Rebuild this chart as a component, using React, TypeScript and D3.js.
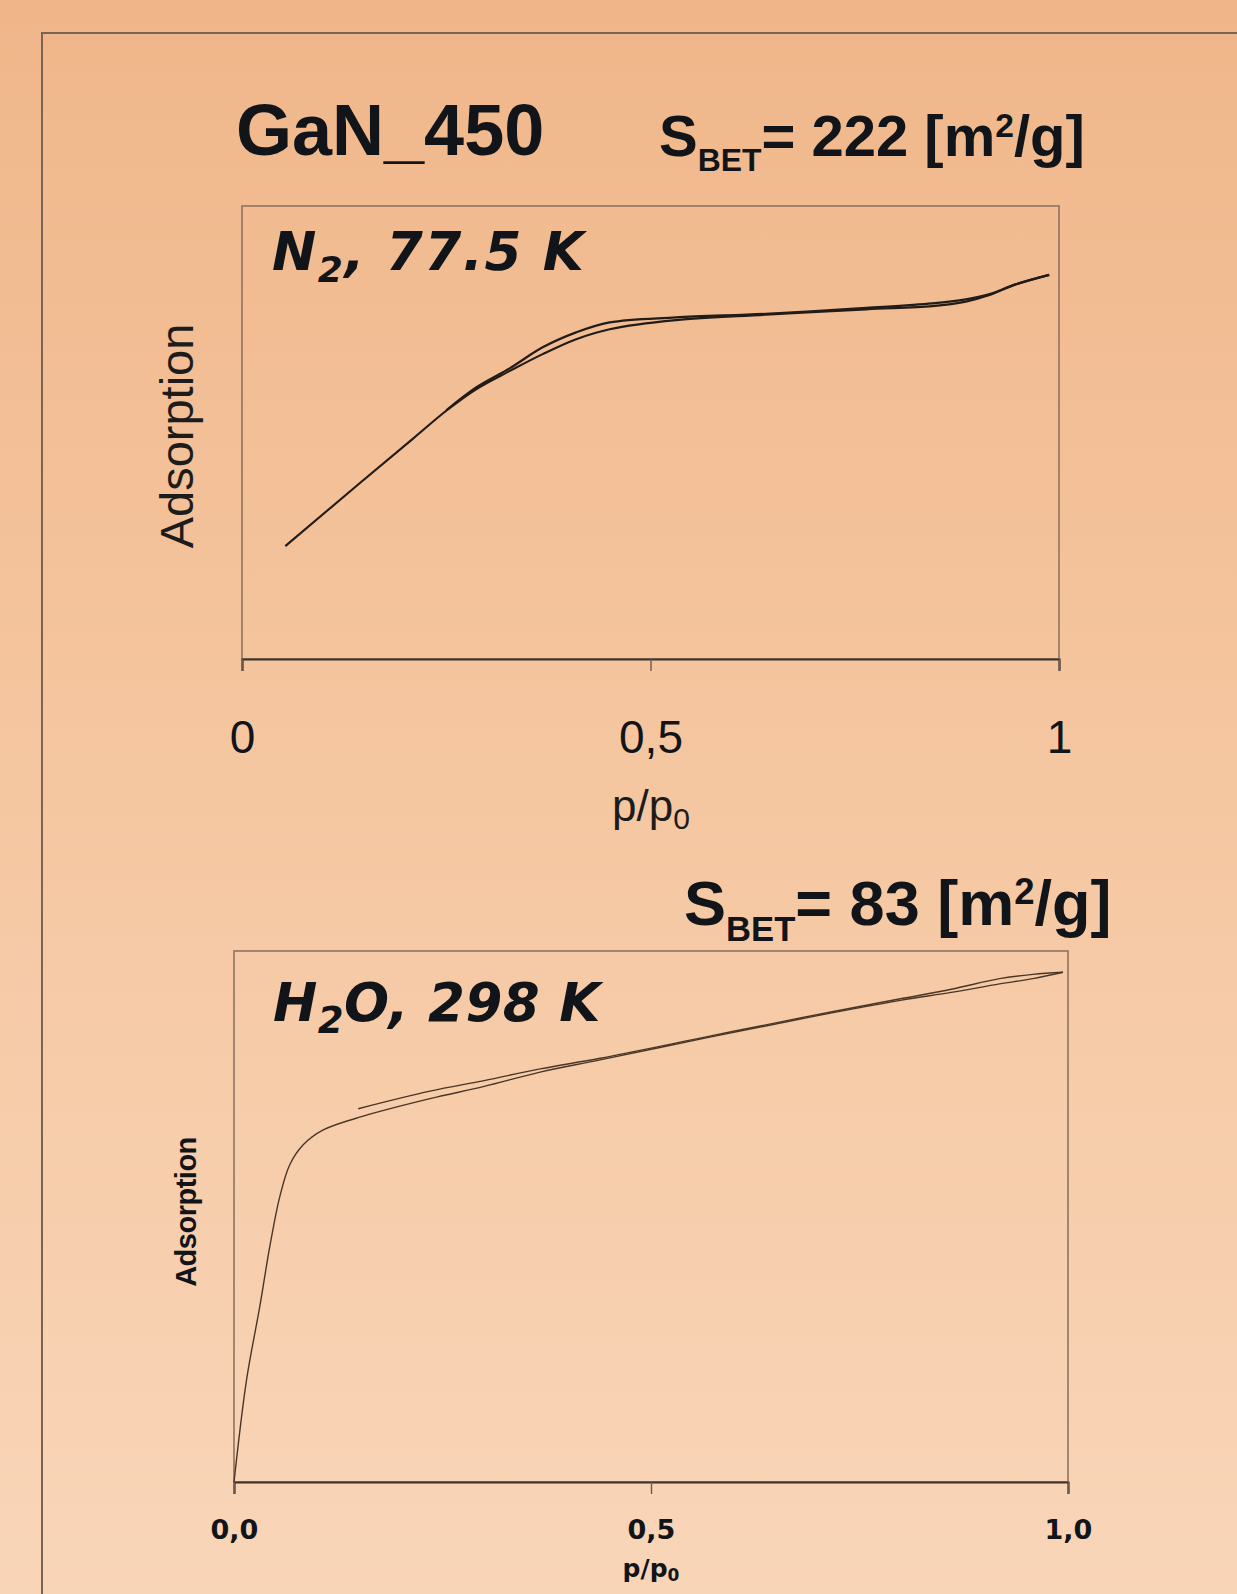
import { useEffect, useRef } from "react";
import * as d3 from "d3";

// N2 isotherm at 77.5 K (relative adsorption)
const n2AdsP = [0.053, 0.144, 0.209, 0.25, 0.287, 0.328, 0.368, 0.409, 0.45, 0.531, 0.641, 0.764, 0.845, 0.886, 0.914, 0.947, 0.988];
const n2AdsV = [24.9, 38.8, 48.6, 54.8, 59.6, 63.6, 67.3, 70.6, 72.8, 74.8, 76.0, 77.2, 77.9, 78.9, 80.3, 82.7, 84.8];
const n2DesP = [0.988, 0.947, 0.914, 0.886, 0.845, 0.764, 0.641, 0.531, 0.45, 0.409, 0.368, 0.328, 0.287, 0.25];
const n2DesV = [84.8, 82.7, 80.5, 79.4, 78.5, 77.5, 76.2, 75.4, 74.3, 72.1, 68.8, 64.2, 60.0, 54.9];

// H2O isotherm at 298 K
const h2oAdsP = [0, 0.015, 0.031, 0.043, 0.055, 0.067, 0.083, 0.107, 0.155, 0.235, 0.3, 0.367, 0.439, 0.559, 0.679, 0.799, 0.86, 0.918, 0.958, 0.994];
const h2oAdsV = [0, 19.2, 33.1, 44.4, 53.8, 59.8, 63.5, 66.3, 68.9, 72.2, 74.5, 77.2, 79.5, 83.4, 87.2, 90.7, 92.2, 93.8, 94.8, 96.0];
const h2oDesP = [0.994, 0.958, 0.918, 0.86, 0.799, 0.679, 0.559, 0.439, 0.367, 0.3, 0.235, 0.149];
const h2oDesV = [96.0, 95.6, 94.8, 92.8, 91.0, 87.4, 83.6, 79.8, 77.8, 75.6, 73.6, 70.3];

const xTicks = [0, 0.5, 1];
const topTickLabels = ["0", "0,5", "1"];
const bottomTickLabels = ["0,0", "0,5", "1,0"];

const W = 1237;
const H = 1594;
const INK = "#111418";

export default function App() {
  const ref = useRef<SVGSVGElement>(null);

  useEffect(() => {
    document.body.style.margin = "0";
    const svg = d3.select(ref.current);
    svg.selectAll("*").remove();

    const defs = svg.append("defs");
    const grad = defs.append("linearGradient").attr("id", "bg").attr("x1", 0).attr("y1", 0).attr("x2", 0).attr("y2", 1);
    grad.append("stop").attr("offset", "0%").attr("stop-color", "#f0b68a");
    grad.append("stop").attr("offset", "50%").attr("stop-color", "#f5c7a1");
    grad.append("stop").attr("offset", "100%").attr("stop-color", "#f9d5b8");
    svg.append("rect").attr("width", W).attr("height", H).attr("fill", "url(#bg)");

    // outer frame (only left and top visible)
    svg.append("path")
      .attr("d", `M42,${H} V33 H${W}`)
      .attr("fill", "none").attr("stroke", "#7a6555").attr("stroke-width", 2);

    // titles
    svg.append("text")
      .attr("x", 236).attr("y", 155)
      .attr("font-family", "'Liberation Sans', Arial, sans-serif")
      .attr("font-weight", "bold").attr("font-size", 72).attr("fill", INK)
      .text("GaN_450");

    const sbet = (x: number, y: number, value: string, fs: number) => {
      const t = svg.append("text")
        .attr("x", x).attr("y", y)
        .attr("font-family", "'Liberation Sans', Arial, sans-serif")
        .attr("font-weight", "bold").attr("font-size", fs).attr("fill", INK);
      t.append("tspan").text("S");
      t.append("tspan").attr("font-size", fs * 0.55).attr("dy", fs * 0.25).text("BET");
      t.append("tspan").attr("dy", -fs * 0.25).text(`= ${value} [m`);
      t.append("tspan").attr("font-size", fs * 0.58).attr("dy", -fs * 0.33).text("2");
      t.append("tspan").attr("dy", fs * 0.33).text("/g]");
    };
    sbet(659, 156, "222", 58);
    sbet(684, 925, "83", 63);

    const drawPanel = (cfg: {
      left: number; right: number; top: number; bottom: number;
      series: [number[], number[]][];
      tickLabels: string[]; tickFont: string; tickWeight: string; tickSize: number; tickY: number;
      lineColor: string; lineWidth: number;
    }) => {
      const x = d3.scaleLinear().domain([0, 1]).range([cfg.left, cfg.right]);
      const y = d3.scaleLinear().domain([0, 100]).range([cfg.bottom, cfg.top]);
      const g = svg.append("g");

      g.append("rect")
        .attr("x", cfg.left).attr("y", cfg.top)
        .attr("width", cfg.right - cfg.left).attr("height", cfg.bottom - cfg.top)
        .attr("fill", "none").attr("stroke", "#8e7360").attr("stroke-width", 1.6);

      const line = d3.line<[number, number]>()
        .x(d => x(d[0])).y(d => y(d[1]))
        .curve(d3.curveCatmullRom.alpha(0.5));

      cfg.series.forEach(([ps, vs]) => {
        g.append("path")
          .attr("d", line(ps.map((p, i) => [p, vs[i]] as [number, number])))
          .attr("fill", "none").attr("stroke", cfg.lineColor)
          .attr("stroke-width", cfg.lineWidth).attr("stroke-linejoin", "round");
      });

      const axis = g.append("g")
        .attr("transform", `translate(0,${cfg.bottom})`)
        .call(d3.axisBottom(x).tickValues(xTicks).tickSize(12).tickFormat((_, i) => cfg.tickLabels[i]));
      axis.select(".domain").attr("stroke", "#3b332d").attr("stroke-width", 2.2);
      axis.selectAll(".tick line").attr("stroke", "#6b5a4d").attr("stroke-width", 1.4);
      axis.selectAll(".tick text")
        .attr("y", cfg.tickY).attr("dy", 0)
        .attr("font-family", cfg.tickFont).attr("font-weight", cfg.tickWeight)
        .attr("font-size", cfg.tickSize).attr("fill", INK);
      return { x, y };
    };

    // top panel: N2
    drawPanel({
      left: 242, right: 1059, top: 206, bottom: 659,
      series: [[n2AdsP, n2AdsV], [n2DesP, n2DesV]],
      tickLabels: topTickLabels, tickFont: "'Liberation Sans', Arial, sans-serif", tickWeight: "normal",
      tickSize: 46, tickY: 94, lineColor: "#221c18", lineWidth: 2.2,
    });

    svg.append("text")
      .attr("transform", "translate(193,436) rotate(-90)")
      .attr("text-anchor", "middle")
      .attr("font-family", "'Liberation Sans', Arial, sans-serif")
      .attr("font-size", 47).attr("fill", "#1c1c1c")
      .text("Adsorption");

    const px1 = svg.append("text")
      .attr("x", 651).attr("y", 821).attr("text-anchor", "middle")
      .attr("font-family", "'Liberation Sans', Arial, sans-serif")
      .attr("font-size", 44).attr("fill", "#1c1c1c");
    px1.append("tspan").text("p/p");
    px1.append("tspan").attr("font-size", 30).attr("dy", 8).text("0");

    const n2 = svg.append("text")
      .attr("x", 272).attr("y", 270)
      .attr("font-family", "'DejaVu Sans', Verdana, sans-serif")
      .attr("font-weight", "bold").attr("font-style", "italic")
      .attr("font-size", 53).attr("letter-spacing", 1.5).attr("fill", INK);
    n2.append("tspan").text("N");
    n2.append("tspan").attr("font-size", 36).attr("dy", 12).text("2");
    n2.append("tspan").attr("dy", -12).text(", 77.5 K");

    // bottom panel: H2O
    drawPanel({
      left: 234, right: 1068, top: 951, bottom: 1482,
      series: [[h2oAdsP, h2oAdsV], [h2oDesP, h2oDesV]],
      tickLabels: bottomTickLabels, tickFont: "'DejaVu Sans', Verdana, sans-serif", tickWeight: "bold",
      tickSize: 27, tickY: 57, lineColor: "#4a3526", lineWidth: 1.4,
    });

    svg.append("text")
      .attr("transform", "translate(196,1212) rotate(-90)")
      .attr("text-anchor", "middle")
      .attr("font-family", "'Liberation Sans', Arial, sans-serif")
      .attr("font-weight", "bold")
      .attr("font-size", 29).attr("letter-spacing", -0.5).attr("fill", INK)
      .text("Adsorption");

    const px2 = svg.append("text")
      .attr("x", 651).attr("y", 1577).attr("text-anchor", "middle")
      .attr("font-family", "'DejaVu Sans', Verdana, sans-serif")
      .attr("font-weight", "bold")
      .attr("font-size", 25).attr("fill", INK);
    px2.append("tspan").text("p/p");
    px2.append("tspan").attr("font-size", 17).attr("dy", 4).text("0");

    const h2o = svg.append("text")
      .attr("x", 273).attr("y", 1021)
      .attr("font-family", "'DejaVu Sans', Verdana, sans-serif")
      .attr("font-weight", "bold").attr("font-style", "italic")
      .attr("font-size", 53).attr("letter-spacing", 0.5).attr("fill", INK);
    h2o.append("tspan").text("H");
    h2o.append("tspan").attr("font-size", 37).attr("dy", 12).text("2");
    h2o.append("tspan").attr("dy", -12).text("O, 298 K");
  }, []);

  return <svg ref={ref} width={W} height={H} style={{ display: "block" }} />;
}
